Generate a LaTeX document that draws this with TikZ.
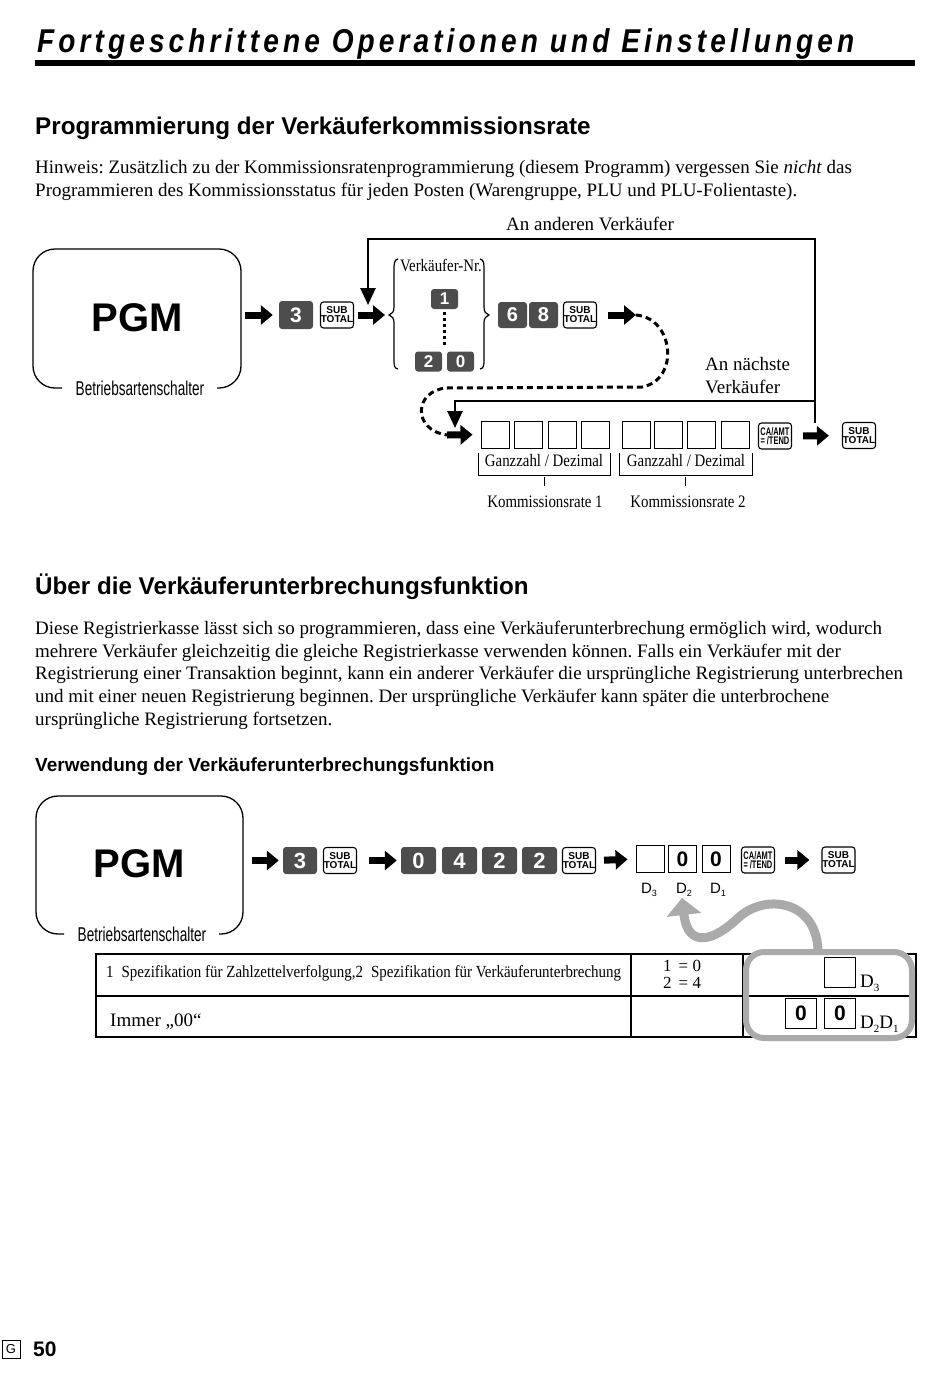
\documentclass[tikz,border=0pt]{standalone}
\usepackage{fontspec}
\setmainfont{Liberation Serif}
\newfontfamily\hsans{Liberation Sans}
\newfontfamily\csans[FakeStretch=0.68]{Liberation Sans}
\newfontfamily\cserif[FakeStretch=0.85]{Liberation Serif}
\newfontfamily\tserif[FakeStretch=0.88]{Liberation Serif}
\newfontfamily\titlef[FakeStretch=0.85,LetterSpace=12.4]{Liberation Sans}
\newcommand\fsz[1]{\fontsize{#1}{#1}\selectfont}
\usetikzlibrary{arrows.meta}
\definecolor{keygray}{HTML}{4D4D4D}
\definecolor{arrgray}{HTML}{AAAAAA}
\frenchspacing
\begin{document}
\begin{tikzpicture}[x=1pt,y=-1pt,
  every node/.style={inner sep=0pt},
  numkey/.style={rectangle, rounded corners=3pt, fill=keygray, text=white, font=\hsans\bfseries\fsz{21}, minimum width=34pt, minimum height=28pt},
  smallkey/.style={numkey, minimum width=27pt, minimum height=20pt, font=\hsans\bfseries\fsz{17}},
  midkey/.style={numkey, minimum width=29pt, minimum height=26pt, font=\hsans\bfseries\fsz{20}},
  rowkey/.style={numkey, minimum width=35pt, minimum height=27pt, font=\hsans\bfseries\fsz{22}},
  subkey/.style={rectangle, rounded corners=3pt, draw, line width=1.1pt, align=center, font=\hsans\bfseries\fontsize{10}{9}\selectfont, minimum width=33pt, minimum height=26pt},
  cakey/.style={subkey, font=\csans\bfseries\fontsize{11}{9}\selectfont},
  entrybox/.style={draw, line width=0.9pt, minimum width=28pt, minimum height=27pt, font=\hsans\bfseries\fsz{21}},
  blockarr/.style={line width=7pt, -{Triangle[length=12pt,width=19pt]}},
  loopline/.style={line width=2.6pt},
  loopend/.style={loopline, -{Triangle[length=17pt,width=15pt]}},
  bodytext/.style={anchor=base west, font=\fsz{19}},
  heading/.style={anchor=base west, font=\hsans\bfseries\fsz{24.2}},
  smalltxt/.style={font=\cserif\fsz{17.5}},
  pgmtxt/.style={font=\hsans\bfseries\fsz{40}},
  modelabel/.style={font=\csans\fsz{20}, fill=white, inner xsep=2pt},
  boxline/.style={line width=1.3pt, rounded corners=22pt}
]
\useasboundingbox (0,0) rectangle (950,1379);

% ---------- header ----------
\node[anchor=base west, font=\titlef\bfseries\itshape\fsz{33}] (title) at (37,52) {Fortgeschrittene Operationen und Einstellungen};
\fill (35,60) rectangle (915,66);

\node[heading] (h1) at (35,134) {Programmierung der Verkäuferkommissionsrate};
\node[bodytext] (p1a) at (35,173) {Hinweis: Zusätzlich zu der Kommissionsratenprogrammierung (diesem Programm) vergessen Sie \textit{nicht} das};
\node[bodytext] (p1b) at (35,196) {Programmieren des Kommissionsstatus für jeden Posten (Warengruppe, PLU und PLU-Folientaste).};

% ---------- diagram 1 ----------
\node[anchor=base, font=\fsz{19}] (anderen) at (590,230) {An anderen Verkäufer};

\draw[boxline] (62,388) -- (33,388) -- (33,249) -- (241,249) -- (241,388) -- (217,388);
\node[pgmtxt] (pgmA) at (137,318) {PGM};
\node[modelabel] (modeA) at (140,388) {Betriebsartenschalter};
\coordinate (boxAE) at (241,315);

\node[numkey] (k3a) at (296,315) {3};
\node[subkey] (suba) at (337,315) {SUB\\TOTAL};
\draw[blockarr, shorten <=4pt, shorten >=6pt] (boxAE) -- (k3a.west);

\coordinate (brL) at (390,315);
\draw[blockarr, shorten <=4pt, shorten >=5pt] (suba.east) -- (brL);

% braces
\draw[line width=1.2pt] (398,259) .. controls (394,260) and (394,263) .. (394,271) -- (394,307) .. controls (394,312) and (392,314) .. (389,315) .. controls (392,316) and (394,318) .. (394,323) -- (394,358) .. controls (394,366) and (394,368) .. (398,369);
\draw[line width=1.2pt] (480,259) .. controls (484,260) and (484,263) .. (484,271) -- (484,307) .. controls (484,312) and (486,314) .. (489,315) .. controls (486,316) and (484,318) .. (484,323) -- (484,358) .. controls (484,366) and (484,368) .. (480,369);
\node[smalltxt] (vnr) at (441,265) {Verkäufer-Nr.};
\node[smallkey] (k1) at (444.5,299) {1};
\node[smallkey] (k2) at (428.5,361.5) {2};
\node[smallkey] (k0) at (460.5,361.5) {0};
\draw[line width=2.4pt, dash pattern=on 3pt off 3pt] (k1.south) ++(0,3) -- (444.5,348);

\node[midkey] (k6) at (512.5,315) {6};
\node[midkey] (k8) at (543.5,315) {8};
\node[subkey] (subb) at (580,315) {SUB\\TOTAL};
\coordinate (dashS) at (636,315);
\draw[blockarr, shorten <=11pt] (subb.east) -- (dashS);

% loop lines
\coordinate (topL) at (368,239);
\coordinate (topR) at (815,239);
\coordinate (rightB) at (815,423);
\coordinate (downTip) at (368,305);
\draw[loopend] (rightB) -- (topR) -- (topL) -- (downTip);
\coordinate (midR) at (815,401);
\coordinate (midL) at (455,401);
\coordinate (midTip) at (455,428);
\draw[loopend] (midR) -- (midL) -- (midTip);
\node[anchor=base west, font=\fsz{19}] (naechste1) at (705,370) {An nächste};
\node[anchor=base west, font=\fsz{19}] (naechste2) at (705,393) {Verkäufer};

% dashed loop
\coordinate (dashE) at (447,435);
\draw[line width=3pt, dash pattern=on 6pt off 4pt] (dashS) .. controls (674,318) and (680,380) .. (642,387) -- (446,388) .. controls (414,391) and (412,430) .. (dashE);

% entry boxes
\node[entrybox] (b1) at (495,434.5) {};
\node[entrybox] (b2) at (528,434.5) {};
\node[entrybox] (b3) at (562,434.5) {};
\node[entrybox] (b4) at (595,434.5) {};
\node[entrybox] (b5) at (636,434.5) {};
\node[entrybox] (b6) at (668,434.5) {};
\node[entrybox] (b7) at (701,434.5) {};
\node[entrybox] (b8) at (735,434.5) {};
\draw[blockarr, shorten >=8pt] (dashE) -- (b1.west);
\node[cakey] (caa) at (775,436) {CA/AMT\\=\,/TEND};
\node[subkey] (subc) at (859,435.5) {SUB\\TOTAL};
\draw[blockarr, shorten <=11pt, shorten >=13pt] (caa.east) -- (subc.west);

% brackets
\draw[line width=0.9pt] (478,453) -- (478,475) -- (610,475) -- (610,453);
\draw[line width=0.6pt] (544,477) -- (544,486);
\draw[line width=0.9pt] (619,453) -- (619,475) -- (752,475) -- (752,453);
\draw[line width=0.6pt] (685,477) -- (685,486);
\node[smalltxt] (gd1) at (544,461) {Ganzzahl / Dezimal};
\node[smalltxt] (gd2) at (686,461) {Ganzzahl / Dezimal};
\node[smalltxt] (kr1) at (545,502) {Kommissionsrate 1};
\node[smalltxt] (kr2) at (688,502) {Kommissionsrate 2};

% ---------- section 2 ----------
\node[heading] (h2) at (35,594) {Über die Verkäuferunterbrechungsfunktion};
\node[bodytext] (q1) at (35,634) {Diese Registrierkasse lässt sich so programmieren, dass eine Verkäuferunterbrechung ermöglich wird, wodurch};
\node[bodytext] (q2) at (35,657) {mehrere Verkäufer gleichzeitig die gleiche Registrierkasse verwenden können. Falls ein Verkäufer mit der};
\node[bodytext] (q3) at (35,679) {Registrierung einer Transaktion beginnt, kann ein anderer Verkäufer die ursprüngliche Registrierung unterbrechen};
\node[bodytext] (q4) at (35,702) {und mit einer neuen Registrierung beginnen. Der ursprüngliche Verkäufer kann später die unterbrochene};
\node[bodytext] (q5) at (35,725) {ursprüngliche Registrierung fortsetzen.};

\node[anchor=base west, font=\hsans\bfseries\fsz{19}] (h3) at (35,771) {Verwendung der Verkäuferunterbrechungsfunktion};

% ---------- diagram 2 ----------
\draw[boxline] (64,934) -- (36,934) -- (36,796) -- (243,796) -- (243,934) -- (219,934);
\node[pgmtxt] (pgmB) at (139,864) {PGM};
\node[modelabel] (modeB) at (142,934) {Betriebsartenschalter};
\coordinate (boxBE) at (243,860.5);

\node[rowkey, minimum width=34pt] (r3) at (300,860.5) {3};
\node[subkey] (rs1) at (340,860.5) {SUB\\TOTAL};
\draw[blockarr, shorten <=9pt, shorten >=4pt] (boxBE) -- (r3.west);
\node[rowkey] (r0) at (418.5,860.5) {0};
\node[rowkey] (r4) at (459.5,860.5) {4};
\node[rowkey] (r2a) at (499.5,860.5) {2};
\node[rowkey] (r2b) at (539.5,860.5) {2};
\draw[blockarr, shorten <=12pt, shorten >=4pt] (rs1.east) -- (r0.west);
\node[subkey] (rs2) at (579,860.5) {SUB\\TOTAL};
\node[entrybox] (e1) at (650,859) {};
\node[entrybox] (e2) at (682.5,859) {0};
\node[entrybox] (e3) at (716,859) {0};
\draw[blockarr, shorten <=8pt, shorten >=8pt] (rs2.east) -- (e1.west);
\node[cakey] (cab) at (758,860) {CA/AMT\\=\,/TEND};
\node[subkey] (rs3) at (838.5,860) {SUB\\TOTAL};
\draw[blockarr, shorten <=10pt, shorten >=12pt] (cab.east) -- (rs3.west);
\node[font=\hsans\fsz{15}] (d3) at (649,890) {D\raisebox{-3pt}{\fsz{9}3}};
\node[font=\hsans\fsz{15}] (d2) at (684,890) {D\raisebox{-3pt}{\fsz{9}2}};
\node[font=\hsans\fsz{15}] (d1) at (718,890) {D\raisebox{-3pt}{\fsz{9}1}};

% table
\draw[line width=1.1pt] (96,954) rectangle (916,1037);
\draw[line width=1.1pt] (96,996) -- (916,996);
\draw[line width=1.1pt] (631,954) -- (631,1037);
\draw[line width=1.1pt] (743,954) -- (743,1037);
\node[anchor=west, font=\tserif\fsz{17}] (t1) at (106,973) {1\hspace{8pt}Spezifikation für Zahlzettelverfolgung,2\hspace{8pt}Spezifikation für Verkäuferunterbrechung};
\node[anchor=base west, font=\fsz{17}] (t2a) at (663,971) {1\hspace{7pt}= 0};
\node[anchor=base west, font=\fsz{17}] (t2b) at (663,988) {2\hspace{7pt}= 4};
\node[anchor=base west, font=\fsz{19}] (t3) at (110,1026) {Immer „00“};
\node[draw, line width=0.9pt, minimum width=31pt, minimum height=30pt] (tb1) at (840,972) {};
\node[anchor=base west, font=\fsz{19}] (td3) at (860,987) {D\raisebox{-4pt}{\fsz{11}3}};
\node[draw, line width=0.9pt, minimum width=31pt, minimum height=30pt, font=\hsans\bfseries\fsz{21}] (tb2) at (801,1013) {0};
\node[draw, line width=0.9pt, minimum width=31pt, minimum height=30pt, font=\hsans\bfseries\fsz{21}] (tb3) at (840,1013) {0};
\node[anchor=base west, font=\fsz{19}] (td21) at (860,1028) {D\raisebox{-4pt}{\fsz{11}2}D\raisebox{-4pt}{\fsz{11}1}};

% gray highlight
\draw[arrgray, line width=6pt, rounded corners=18pt] (746,952) rectangle (912,1038);
\coordinate (gStart) at (818,950);
\coordinate (gTip) at (682,898);
\draw[arrgray, line width=9pt, -{Triangle[length=17pt,width=34pt]}] (gStart) .. controls (816,900) and (765,893) .. (738,918) .. controls (715,940) and (688,950) .. (gTip);

% footer
\node[draw, line width=0.8pt, minimum width=18pt, minimum height=18pt, font=\hsans\fsz{13}] (gbox) at (11,1349) {G};
\node[anchor=west, font=\hsans\bfseries\fsz{21}] (pnum) at (33,1349) {50};
\end{tikzpicture}
\end{document}
